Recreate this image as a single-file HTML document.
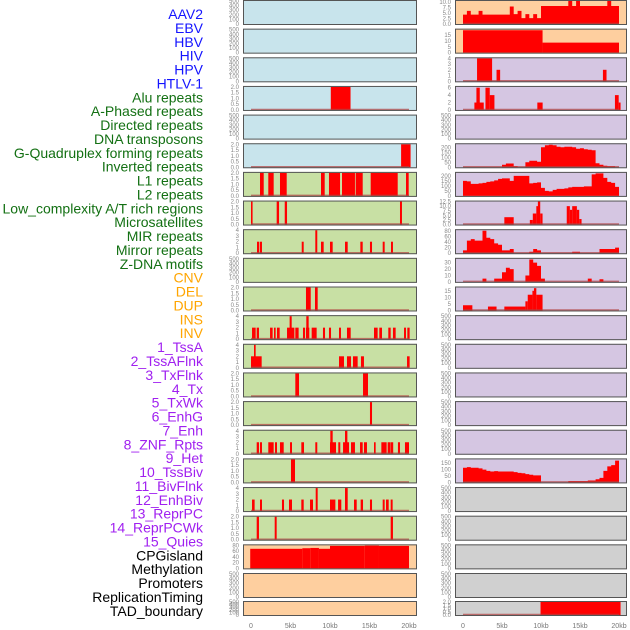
<!DOCTYPE html>
<html><head><meta charset="utf-8"><style>
html,body{margin:0;padding:0;background:#fff}
svg{display:block}
</style></head><body>
<svg id="chart" width="630" height="630" xmlns="http://www.w3.org/2000/svg"></svg>
<script>
// ---------- labels ----------
const trackLabels = ["AAV2","EBV","HBV","HIV","HPV","HTLV-1","Alu repeats","A-Phased repeats","Directed repeats","DNA transposons","G-Quadruplex forming repeats","Inverted repeats","L1 repeats","L2 repeats","Low_complexity A/T rich regions","Microsatellites","MIR repeats","Mirror repeats","Z-DNA motifs","CNV","DEL","DUP","INS","INV","1_TssA","2_TssAFlnk","3_TxFlnk","4_Tx","5_TxWk","6_EnhG","7_Enh","8_ZNF_Rpts","9_Het","10_TssBiv","11_BivFlnk","12_EnhBiv","13_ReprPC","14_ReprPCWk","15_Quies","CPGisland","Methylation","Promoters","ReplicationTiming","TAD_boundary"];
const labelGroups = [6,13,5,15,5];
const groupColors = ["#1414ff","#137013","#ffa500","#a020f0","#000000"];
const xTicks = [0,5000,10000,15000,20000];
const xTickLabels = ["0","5kb","10kb","15kb","20kb"];

// ---------- left column data: [startKb, endKb, value] ----------
const L3_bars = [[10.1,12.6,2]];
const L5_bars = [[19.0,20.2,2]];
const L6_bars = [[1.14,1.61,2],[2.19,2.87,2],[3.67,4.52,2],[8.86,9.33,2],[9.87,11.27,2],[11.52,13.16,2],[13.25,14.14,2],[15.15,18.57,2],[19.62,19.96,2]];
const L7_bars = [[0,0.2,2],[3.25,3.55,2],[4.27,4.56,2],[18.86,19.11,2]];
const L8_bars = [[0.76,1.05,2],[1.14,1.39,2],[6.42,6.67,2],[8.14,8.39,4],[8.86,9.2,2],[10.0,10.34,2],[11.9,12.24,2],[13.84,14.14,2],[15.06,15.32,2],[16.67,16.92,2],[17.72,17.97,2]];
const L10_bars = [[6.96,7.56,2],[8.1,8.44,2]];
const L11_bars = [[0.13,0.59,2],[0.72,1.01,2],[2.41,2.74,2],[2.91,3.12,2],[3.29,3.63,2],[4.56,5.49,2],[4.89,5.15,4],[5.61,6.03,2],[6.58,6.84,2],[6.96,7.38,2],[7.0,7.3,4],[7.68,8.31,2],[9.11,9.37,2],[9.87,10.13,2],[11.14,11.39,2],[12.15,12.62,2],[15.57,16.03,2],[16.24,16.58,2],[17.38,17.68,2],[17.97,18.31,2],[19.37,19.62,2],[19.79,20.08,2]];
const L12_bars = [[0,1.35,2],[0.38,0.59,4],[11.14,11.77,2],[12.15,12.66,2],[12.91,13.5,2],[13.92,14.3,2],[19.75,20.08,2]];
const L13_bars = [[5.61,6.08,2],[14.18,14.81,2]];
const L14_bars = [[15.06,15.32,2]];
const L15_bars = [[0.72,1.01,2],[1.14,1.39,2],[2.19,2.87,2],[3.04,3.29,2],[3.67,4.14,2],[4.94,5.19,2],[6.37,6.71,2],[8.14,8.39,2],[10.0,10.76,2],[10.04,10.34,4],[11.05,11.3,2],[11.65,12.41,2],[11.9,12.2,4],[12.66,13.16,2],[13.8,14.14,2],[14.3,14.68,2],[15.57,15.78,2],[16.5,17.17,2],[17.3,17.68,2],[17.72,18.0,2],[18.6,18.86,2],[19.49,20.0,2]];
const L16_bars = [[5.06,5.57,2]];
const L17_bars = [[0.13,0.46,2],[1.14,1.39,2],[3.92,4.18,2],[4.81,5.19,2],[6.37,6.67,2],[7.47,7.85,2],[8.19,8.44,4],[10.0,10.68,2],[11.02,11.43,2],[11.9,12.24,4],[13.04,13.38,2],[13.88,14.18,2],[15.06,15.32,2],[16.67,16.92,2],[17.09,17.43,2],[17.68,17.93,2]];
const L18_bars = [[0.72,1.01,2],[3.0,3.25,2],[17.68,17.97,2]];
const L19_bars = [[-0.1,6.5,68],[6.5,7.5,70],[7.5,8.6,71],[8.6,10.0,68],[10.0,14.4,78],[14.4,16.2,79],[16.2,20.0,78]];

// ---------- right column data ----------
const R0_bins = [4.3,6,4.3,4.3,6,4.3,4.3,4.3,4.3,4.3,4.3,4.3,8,4.5,6,2.7,4.5,2.7,4.5,2.7,8.2,8.2,8.2,8.2,8.2,8.2,8.2,10.5,8.2,10.5,8.2,8.2,8.2,8.2,8.2,8.2,8.2,10.5,8.2,8.2];
const R1_bars = [[0,10.2,19],[10.2,20,8.5]];
const R2_bars = [[1.8,3.73,4],[4.3,4.76,2],[17.94,18.4,2]];
const R3_bars = [[1.46,2.66,2],[1.72,2.15,6],[2.88,3.43,6],[3.43,4.03,4],[9.53,10.21,2],[19.48,19.96,4],[19.96,20.2,2]];
const R5_bins = [0,0,0,0,0,0,0,0,0,0,25,38,38,10,0,0,50,65,65,55,200,220,225,220,205,200,205,205,200,185,190,180,175,170,40,25,15,10,10,0];
const R6_bins = [150,145,120,120,125,130,140,145,155,170,175,175,150,200,200,200,200,125,130,135,80,50,45,60,70,70,75,85,90,90,90,95,95,215,225,225,180,140,130,90];
const R7_bars = [[5.3,6.5,4],[8.57,8.95,2.5],[8.95,9.4,6],[9.4,9.7,10],[9.6,9.9,12.5],[9.9,10.2,6],[13.3,13.7,10],[13.7,14.0,8],[14.0,14.6,10],[14.6,14.9,8],[14.9,15.2,3]];
const R8_bins = [10,45,50,45,45,80,55,50,35,30,10,10,15,0,0,0,0,5,15,10,0,0,0,0,0,0,0,0,5,5,0,0,0,0,0,15,15,15,15,20];
const R9_bins = [0,0,0,0,0,5,0,0,5,5,15,22,20,0,0,0,10,35,30,25,5,0,0,0,0,0,0,0,0,0,0,0,5,0,0,4,0,0,0,0];
const R10_bars = [[0,1.2,4],[3.2,4.3,3],[5.3,8.0,3],[8.0,8.3,7],[8.3,8.9,12],[8.9,9.1,15],[9.1,9.4,17],[9.4,10.2,12]];
const R16_bins = [115,120,115,115,110,100,90,85,88,85,85,85,85,80,75,72,65,60,55,55,0,0,0,0,0,0,0,10,10,10,10,10,15,15,25,35,90,125,135,170];
const R21_bars = [[9.94,20.2,2]];

// ---------- panel configuration ----------
const BG = {b:"#c8e4ec", o:"#fecf9f", p:"#d5c6e2", g:"#c8e0a4", k:"#d0d0d0"};
const T500 = [0,100,200,300,400,500], T2=[0,0.5,1,1.5,2], T4=[0,1,2,3,4];
const leftPanels = [
 {bg:"b",ymax:500,ticks:T500},{bg:"b",ymax:500,ticks:T500},{bg:"b",ymax:500,ticks:T500},
 {bg:"b",ymax:2,ticks:T2,bars:L3_bars},{bg:"b",ymax:500,ticks:T500},{bg:"b",ymax:2,ticks:T2,bars:L5_bars},
 {bg:"g",ymax:2,ticks:T2,bars:L6_bars},{bg:"g",ymax:2,ticks:T2,bars:L7_bars},{bg:"g",ymax:4,ticks:T4,bars:L8_bars},
 {bg:"g",ymax:500,ticks:T500},{bg:"g",ymax:2,ticks:T2,bars:L10_bars},{bg:"g",ymax:4,ticks:T4,bars:L11_bars},
 {bg:"g",ymax:4,ticks:T4,bars:L12_bars},{bg:"g",ymax:2,ticks:T2,bars:L13_bars},{bg:"g",ymax:2,ticks:T2,bars:L14_bars},
 {bg:"g",ymax:4,ticks:T4,bars:L15_bars},{bg:"g",ymax:2,ticks:T2,bars:L16_bars},{bg:"g",ymax:4,ticks:T4,bars:L17_bars},
 {bg:"g",ymax:2,ticks:T2,bars:L18_bars},{bg:"o",ymax:80,ticks:[0,20,40,60,80],bars:L19_bars,nobase:true},
 {bg:"o",ymax:500,ticks:T500},{bg:"o",ymax:500,ticks:T500}
];
const rightPanels = [
 {bg:"o",ymax:10.5,ticks:[0,2.5,5,7.5,10],bins:R0_bins,dec:1},{bg:"o",ymax:19.5,ticks:[0,5,10,15],bars:R1_bars,nobase:true},
 {bg:"p",ymax:4,ticks:[0,1,2,3,4],bars:R2_bars},{bg:"p",ymax:6.2,ticks:[0,2,4,6],bars:R3_bars},
 {bg:"p",ymax:500,ticks:T500},{bg:"p",ymax:230,ticks:[0,50,100,150,200],bins:R5_bins},
 {bg:"p",ymax:230,ticks:[0,50,100,150,200],bins:R6_bins,nobase:true},{bg:"p",ymax:12.5,ticks:[0,2.5,5,7.5,10,12.5],bars:R7_bars,dec:1},
 {bg:"p",ymax:82,ticks:[0,20,40,60,80],bins:R8_bins},{bg:"p",ymax:36,ticks:[0,10,20,30],bins:R9_bins},
 {bg:"p",ymax:17.5,ticks:[0,5,10,15],bars:R10_bars},{bg:"p",ymax:500,ticks:T500},
 {bg:"p",ymax:500,ticks:T500},{bg:"p",ymax:500,ticks:T500},{bg:"p",ymax:500,ticks:T500},{bg:"p",ymax:500,ticks:T500},
 {bg:"p",ymax:180,ticks:[0,50,100,150],bins:R16_bins},
 {bg:"k",ymax:500,ticks:T500},{bg:"k",ymax:500,ticks:T500},{bg:"k",ymax:500,ticks:T500},{bg:"k",ymax:500,ticks:T500},
 {bg:"k",ymax:2,ticks:T2,bars:R21_bars,dec:1}
];
leftPanels.forEach(p=>{ if(p.ticks===T2) p.dec=1; });
rightPanels.forEach(p=>{ if(p.ticks===T2) p.dec=1; });

// ---------- drawing ----------
const NS="http://www.w3.org/2000/svg";
const svg=document.getElementById("chart");
function mk(tag,attrs,parent){const e=document.createElementNS(NS,tag);for(const k in attrs)e.setAttribute(k,attrs[k]);(parent||svg).appendChild(e);return e;}

// labels
let li=0;
labelGroups.forEach((n,g)=>{for(let j=0;j<n;j++){
  const t=mk("text",{x:203,y:19+13.88*li,"text-anchor":"end","font-family":"Liberation Sans, sans-serif","font-size":"14",fill:groupColors[g]});
  t.textContent=trackLabels[li];
  
  
  li++;}});

function rowGeom(i){ if(i===21) return {top:601,h:15}; return {top:28.65*i,h:25}; }

function drawColumn(panels,boxX,boxW,x0,x1,tickX,colName){
  const g=mk("g",{});
  
  
  const xs=kb=>x0+(kb/20)*(x1-x0);
  panels.forEach((p,i)=>{
    const {top,h}=rowGeom(i);
    const pg=mk("g",{},g);
    
    
    mk("rect",{x:boxX,y:top,width:boxW,height:h,fill:BG[p.bg]},pg);
    const yb=top+h-1, yt=top+1;
    const ys=v=>yb-(v/p.ymax)*(yb-yt);
    const clipX=v=>Math.max(boxX+1,Math.min(boxX+boxW-1,v));
    if(p.bars) p.bars.forEach(b=>{
      const xa=clipX(xs(b[0])), xb=clipX(xs(b[1]));
      const r=mk("rect",{x:xa,y:ys(b[2]),width:Math.max(1,xb-xa),height:yb-ys(b[2]),fill:"#ff0000"},pg);
      
      
    });
    if(p.bins){
      let d="M"+xs(0)+","+yb;
      p.bins.forEach((v,k)=>{d+=" L"+xs(k*0.5)+","+ys(v)+" L"+xs((k+1)*0.5)+","+ys(v);});
      d+=" L"+xs(20)+","+yb+" Z";
      const a=mk("path",{d:d,fill:"#ff0000"},pg);
      
      
    }
    if(!p.nobase && (p.bars||p.bins)){
      mk("line",{x1:xs(0),x2:xs(20),y1:yb-0.5,y2:yb-0.5,stroke:"#b04040","stroke-width":1.5,"stroke-opacity":0.7},pg);
    }
    mk("rect",{x:boxX+0.5,y:top+0.5,width:boxW-1,height:h-1,fill:"none",stroke:"#555","stroke-width":1},pg);
    p.ticks.forEach(tv=>{
      const t=mk("text",{x:tickX,y:ys(tv)+2,"text-anchor":"end","font-family":"Liberation Sans, sans-serif","font-size":"6",fill:"#888"},pg);
      t.textContent=p.dec?tv.toFixed(1):String(tv);
      
      
    });
  });
  xTicks.forEach((v,k)=>{
    const t=mk("text",{x:xs(v/1000),y:628,"text-anchor":"middle","font-family":"Liberation Sans, sans-serif","font-size":"7",fill:"#777"},g);
    t.textContent=xTickLabels[k];
    
    
  });
}
drawColumn(leftPanels,243,174,251,409,239,"left-track-column");
drawColumn(rightPanels,455,172,463,619,451,"right-track-column");
</script>
</body></html>
